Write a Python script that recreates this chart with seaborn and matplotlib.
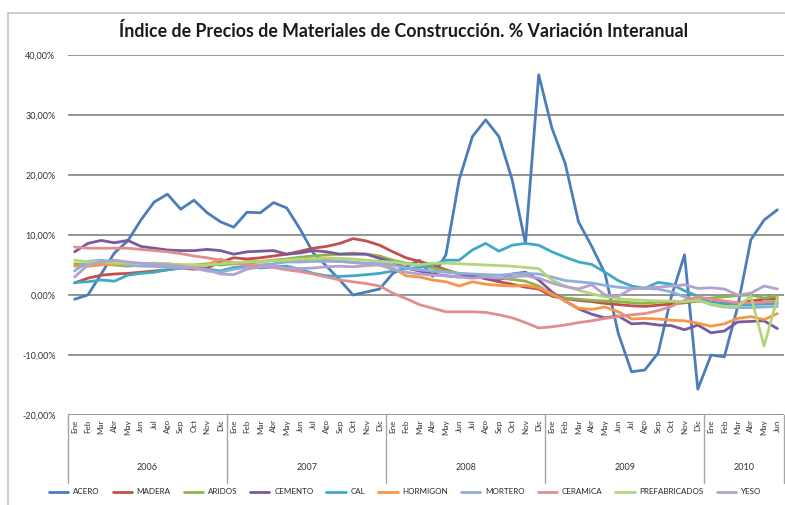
import numpy as np
import pandas as pd
import matplotlib
matplotlib.use("Agg")
import matplotlib.pyplot as plt
import seaborn as sns
from matplotlib.transforms import blended_transform_factory
from matplotlib.lines import Line2D
from matplotlib.patches import Rectangle

title = "Índice de Precios de Materiales de Construcción. % Variación Interanual"
months = ["Ene", "Feb", "Mar", "Abr", "May", "Jun", "Jul", "Ago", "Sep", "Oct", "Nov", "Dic"]
years = ["2006", "2007", "2008", "2009", "2010"]
year_months = [12, 12, 12, 12, 6]
series_names = ["ACERO", "MADERA", "ARIDOS", "CEMENTO", "CAL", "HORMIGON",
                "MORTERO", "CERAMICA", "PREFABRICADOS", "YESO"]
colors = ["#4A7EBB", "#C0504D", "#8DB44A", "#7A5A9E", "#40A9C4", "#F79646",
          "#8EAEDB", "#E08F8C", "#B4D57A", "#B3A2CF"]
yticks = [-20, -10, 0, 10, 20, 30, 40]
ytick_labels = ["-20,00%", "-10,00%", "0,00%", "10,00%", "20,00%", "30,00%", "40,00%"]

acero = [-0.7, 0.0, 3.5, 7.0, 9.0, 12.5, 15.5, 16.8, 14.3, 15.8, 13.7, 12.2,
         11.3, 13.8, 13.7, 15.4, 14.5, 11.0, 7.0, 4.8, 2.5, 0.0, 0.5, 1.0,
         3.6, 4.7, 5.8, 3.1, 6.7, 19.2, 26.4, 29.2, 26.4, 19.2, 8.6, 36.7,
         27.8, 21.9, 12.2, 8.1, 3.6, -6.4, -12.8, -12.5, -9.7, -0.3, 6.7, -15.7,
         -10.0, -10.3, -2.0, 9.2, 12.5, 14.2]
madera = [2.0, 2.8, 3.3, 3.5, 3.6, 3.8, 4.0, 4.2, 4.5, 4.3, 4.5, 5.5,
          6.2, 6.0, 6.2, 6.5, 6.8, 7.3, 7.8, 8.1, 8.6, 9.4, 9.0, 8.3,
          7.2, 6.2, 5.6, 5.0, 4.2, 3.5, 3.2, 2.7, 2.2, 1.8, 1.3, 1.0,
          -0.2, -0.6, -0.9, -1.1, -1.4, -1.6, -1.8, -1.9, -1.7, -1.5, -1.3, -1.0,
          -1.2, -1.4, -1.3, -1.0, -0.7, -0.6]
aridos = [5.2, 5.0, 5.2, 5.0, 4.8, 5.0, 5.3, 5.2, 5.0, 5.0, 5.2, 5.0,
          5.2, 5.3, 5.5, 5.8, 6.0, 6.3, 6.5, 6.7, 6.8, 7.0, 6.8, 6.5,
          5.8, 5.3, 5.0, 4.5, 4.0, 3.6, 3.4, 3.0, 2.8, 2.6, 2.3, 1.5,
          0.0, -0.5, -0.7, -0.9, -1.0, -1.1, -1.3, -1.4, -1.2, -1.1, -1.2, -0.9,
          -0.5, -0.3, -0.1, 0.0, -0.5, -0.2]
cemento = [7.2, 8.6, 9.1, 8.7, 9.1, 8.1, 7.8, 7.5, 7.4, 7.4, 7.6, 7.4,
           6.8, 7.2, 7.3, 7.4, 6.8, 7.0, 7.4, 7.2, 6.8, 6.8, 6.8, 6.1,
           5.5, 4.5, 4.0, 3.5, 3.2, 3.0, 3.2, 2.8, 2.5, 3.5, 3.8, 2.5,
           0.5, -1.0, -2.3, -3.2, -3.8, -3.5, -4.8, -4.7, -5.0, -5.1, -5.8, -5.0,
           -6.3, -6.0, -4.5, -4.4, -4.3, -5.6]
cal = [2.1, 2.2, 2.5, 2.3, 3.3, 3.6, 3.8, 4.2, 4.5, 4.6, 4.3, 4.0,
       4.6, 4.8, 4.5, 4.7, 4.8, 4.3, 3.6, 3.2, 3.1, 3.2, 3.4, 3.6,
       4.0, 4.4, 4.6, 5.0, 5.8, 5.8, 7.5, 8.6, 7.3, 8.3, 8.6, 8.3,
       7.2, 6.3, 5.5, 5.1, 3.8, 2.4, 1.5, 1.1, 2.1, 1.8, 0.7, -0.2,
       -1.3, -1.5, -1.6, -1.6, -1.5, -1.4]
hormigon = [4.8, 4.8, 5.0, 5.2, 5.0, 5.0, 4.8, 4.8, 4.6, 4.8, 5.0, 6.0,
            5.2, 5.6, 5.6, 5.8, 5.8, 5.8, 5.8, 5.8, 5.6, 5.4, 5.2, 5.0,
            4.5, 3.2, 3.0, 2.5, 2.2, 1.5, 2.2, 1.8, 1.6, 1.5, 1.6, 1.2,
            0.2, -1.0, -2.2, -2.4, -2.0, -2.8, -4.0, -3.9, -4.0, -4.2, -4.3, -4.7,
            -5.2, -4.8, -3.9, -3.6, -4.1, -3.1]
mortero = [4.0, 5.6, 5.8, 5.5, 5.0, 4.8, 4.8, 4.6, 4.5, 4.5, 4.0, 3.8,
           4.3, 4.6, 5.0, 5.2, 5.5, 5.5, 5.6, 5.6, 5.6, 5.5, 5.3, 5.3,
           5.0, 4.5, 4.2, 4.0, 3.8, 3.6, 3.5, 3.4, 3.3, 3.5, 3.6, 3.5,
           3.0, 2.4, 2.2, 2.0, 1.6, 1.3, 1.1, 1.1, 1.0, 0.5, -0.3, -0.8,
           -1.6, -2.0, -2.1, -2.1, -2.0, -1.9]
ceramica = [8.0, 7.8, 7.8, 7.8, 7.8, 7.6, 7.4, 7.2, 6.9, 6.5, 6.2, 5.8,
            5.4, 5.0, 4.8, 4.6, 4.2, 3.9, 3.5, 3.0, 2.5, 2.2, 1.9, 1.5,
            0.3, -0.6, -1.6, -2.2, -2.8, -2.8, -2.8, -2.9, -3.3, -3.8, -4.6, -5.5,
            -5.3, -5.0, -4.6, -4.3, -3.9, -3.6, -3.3, -3.1, -2.6, -1.9, -0.9, -0.3,
            -0.7, -1.0, -1.3, -1.3, -1.2, -1.0]
prefabricados = [5.8, 5.5, 5.5, 5.3, 5.3, 5.2, 5.3, 5.2, 5.0, 5.0, 5.0, 5.2,
                 5.4, 5.5, 5.6, 5.7, 5.8, 6.0, 6.0, 6.2, 6.1, 6.0, 5.8, 5.6,
                 5.5, 5.2, 5.0, 5.3, 5.3, 5.2, 5.1, 5.0, 4.9, 4.8, 4.6, 4.4,
                 2.5, 1.5, 0.8, 0.2, -0.3, -0.6, -0.8, -0.9, -1.0, -1.0, -1.1, -0.9,
                 -1.5, -1.9, -1.9, -0.2, -8.5, -0.4]
yeso = [3.0, 5.0, 5.5, 5.8, 5.5, 5.3, 5.2, 5.0, 4.8, 4.5, 4.2, 3.5,
        3.4, 4.3, 4.7, 4.8, 4.5, 4.4, 4.5, 4.7, 4.8, 4.7, 4.9, 5.0,
        4.3, 3.8, 3.5, 3.3, 3.2, 3.0, 2.8, 3.0, 2.8, 3.0, 3.2, 2.8,
        2.0, 1.4, 1.0, 1.7, 0.0, -0.2, 1.0, 1.2, 1.3, 1.5, 1.7, 1.1,
        1.2, 1.0, 0.0, 0.3, 1.5, 1.0]

values = [acero, madera, aridos, cemento, cal, hormigon, mortero, ceramica, prefabricados, yeso]

month_labels = [m for n in year_months for m in months[:n]]
n = len(month_labels)

df = pd.DataFrame({
    "idx": np.tile(np.arange(n), len(series_names)),
    "serie": np.repeat(series_names, n),
    "valor": np.concatenate([np.asarray(v, dtype=float) for v in values]),
})

sns.set_theme(style="white")
plt.rcParams["font.family"] = ["Lato", "DejaVu Sans"]

W, H = 785, 505
fig = plt.figure(figsize=(W / 100, H / 100), dpi=100)
fig.patch.set_facecolor("white")

# outer chart-area frame
fig.add_artist(Rectangle((8 / W, -0.2), 1.5, 1.2 - 13 / H, transform=fig.transFigure,
                         fill=False, edgecolor="#c6c6c6", lw=1.2))

ax = fig.add_axes([68 / W, 1 - 415 / H, (784 - 68) / W, 360 / H])
sns.lineplot(data=df, x="idx", y="valor", hue="serie", hue_order=series_names,
             palette=colors, linewidth=2.0, ax=ax, legend=False, sort=False)

ax.set_xlim(-0.5, n - 0.5)
ax.set_ylim(-20, 40)
ax.set_yticks(yticks)
ax.set_yticklabels(ytick_labels, fontsize=6.5, color="#333333")
ax.yaxis.grid(True, color="#8c8c8c", lw=1.3)
ax.set_axisbelow(True)
ax.set_xticks([])
ax.set_xlabel("")
ax.set_ylabel("")
ax.tick_params(axis="y", length=0, pad=9)
for s in ax.spines.values():
    s.set_visible(False)

tr = blended_transform_factory(ax.transData, ax.transAxes)
for i, lab in enumerate(month_labels):
    ax.text(i, -0.012, lab, rotation=90, ha="center", va="top", fontsize=5.8,
            color="#333333", transform=tr)
start = 0
bounds = [-0.5]
for y, m in zip(years, year_months):
    ax.text(start + (m - 1) / 2, -0.145, y, ha="center", va="center", fontsize=6.5,
            color="#333333", transform=tr)
    start += m
    bounds.append(start - 0.5)
for b in bounds:
    ax.plot([b, b], [0, -0.19], color="#a6a6a6", lw=1.0, transform=tr, clip_on=False)

fig.text(404 / W, 1 - 31 / H, title, ha="center", va="center", fontsize=12.8,
         fontweight="bold", color="#1a1a1a")

handles = [Line2D([0], [0], color=c, lw=2) for c in colors]
fig.legend(handles, series_names, loc="center", bbox_to_anchor=(405 / W, 1 - 492 / H),
           ncol=10, fontsize=5.8, frameon=False, handlelength=2.4, handletextpad=0.6,
           columnspacing=1.6)

fig.savefig("out.png", dpi=100)
